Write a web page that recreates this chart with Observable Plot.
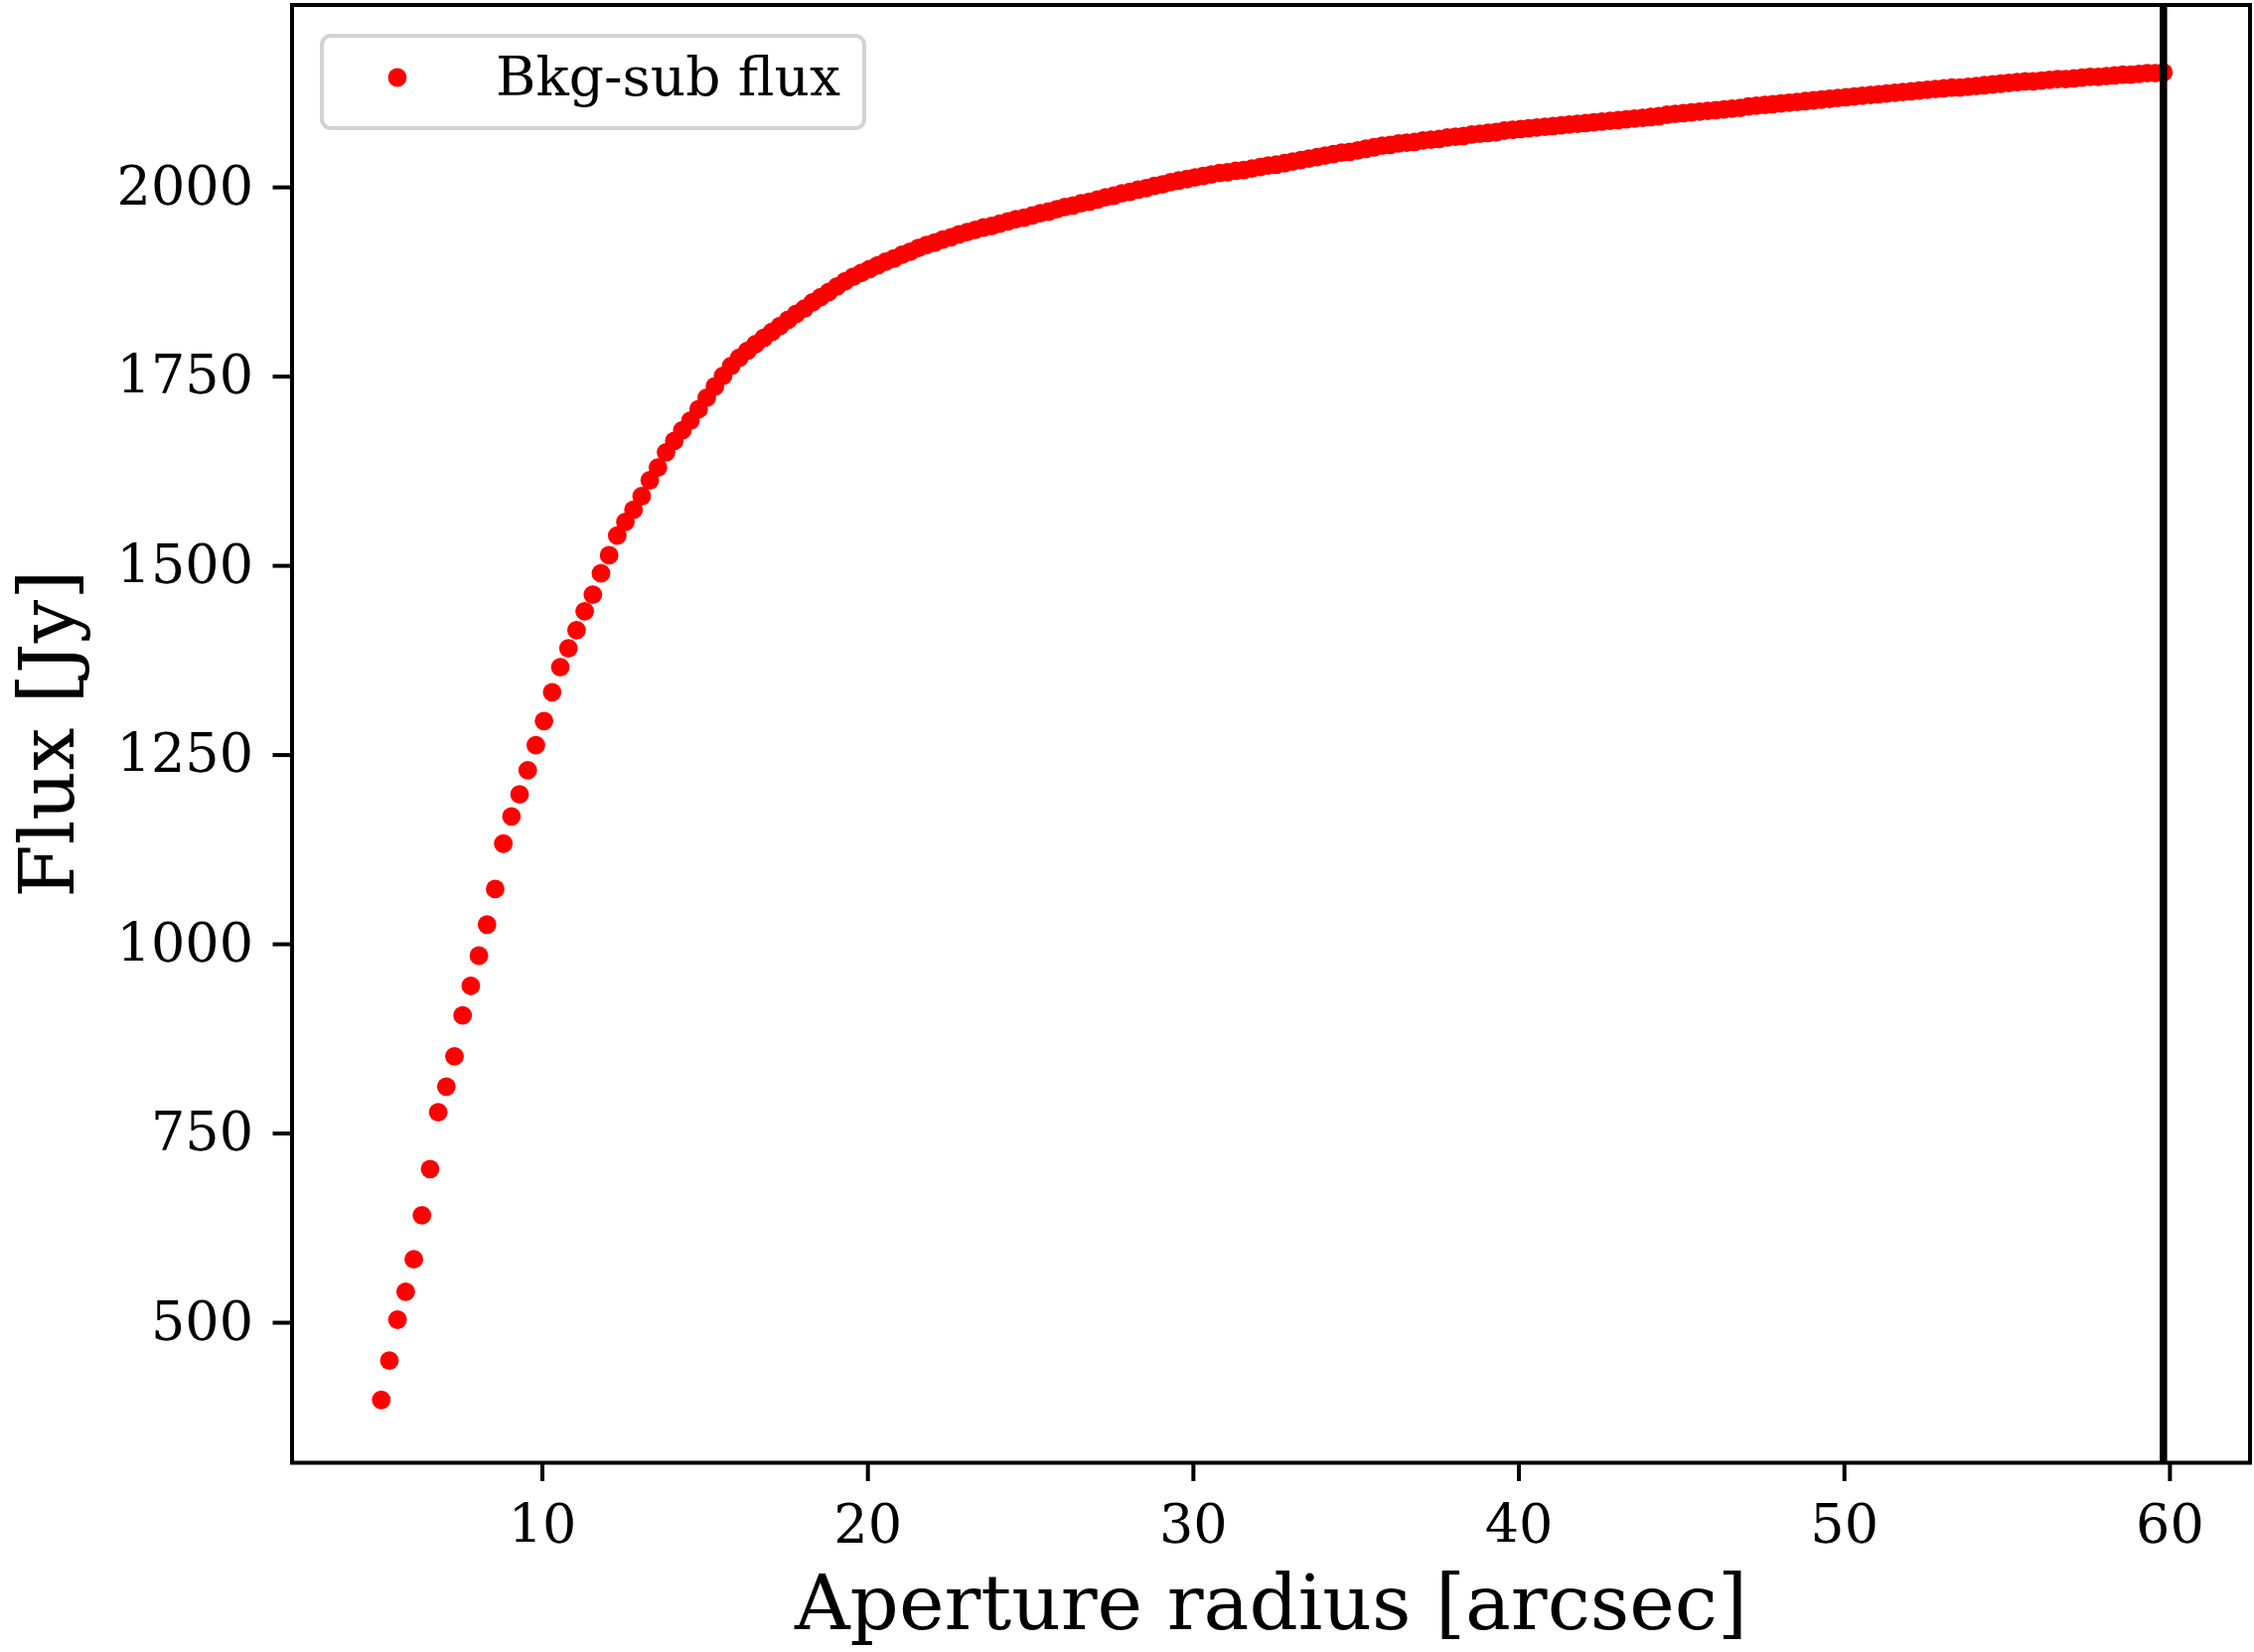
<!DOCTYPE html>
<html>
<head>
<meta charset="utf-8">
<script src="https://cdn.jsdelivr.net/npm/d3@7"></script>
<script src="https://cdn.jsdelivr.net/npm/@observablehq/plot@0.6"></script>
<style>
html, body { margin: 0; padding: 0; background: #fff; }
#wrap { position: relative; width: 2269px; height: 1663px; overflow: hidden; font-family: "DejaVu Serif", serif; }
#wrap svg { display: block; }
#legend { position: absolute; left: 322px; top: 34px; width: 550px; height: 97px; }
</style>
</head>
<body>
<div id="wrap"></div>
<script>
// Aperture radius [arcsec]
const radius = [
  5.05,5.3,5.55,5.8,6.05,6.3,6.55,6.8,7.05,7.3,7.55,7.8,8.05,8.3,8.55,8.8,9.05,9.3,9.55,9.8,
  10.05,10.3,10.55,10.8,11.05,11.3,11.55,11.8,12.05,12.3,12.55,12.8,13.05,13.3,13.55,13.8,14.05,14.3,14.55,14.8,
  15.05,15.3,15.55,15.8,16.05,16.3,16.55,16.8,17.05,17.3,17.55,17.8,18.05,18.3,18.55,18.8,19.05,19.3,19.55,19.8,
  20.05,20.3,20.55,20.8,21.05,21.3,21.55,21.8,22.05,22.3,22.55,22.8,23.05,23.3,23.55,23.8,24.05,24.3,24.55,24.8,
  25.05,25.3,25.55,25.8,26.05,26.3,26.55,26.8,27.05,27.3,27.55,27.8,28.05,28.3,28.55,28.8,29.05,29.3,29.55,29.8,
  30.05,30.3,30.55,30.8,31.05,31.3,31.55,31.8,32.05,32.3,32.55,32.8,33.05,33.3,33.55,33.8,34.05,34.3,34.55,34.8,
  35.05,35.3,35.55,35.8,36.05,36.3,36.55,36.8,37.05,37.3,37.55,37.8,38.05,38.3,38.55,38.8,39.05,39.3,39.55,39.8,
  40.05,40.3,40.55,40.8,41.05,41.3,41.55,41.8,42.05,42.3,42.55,42.8,43.05,43.3,43.55,43.8,44.05,44.3,44.55,44.8,
  45.05,45.3,45.55,45.8,46.05,46.3,46.55,46.8,47.05,47.3,47.55,47.8,48.05,48.3,48.55,48.8,49.05,49.3,49.55,49.8,
  50.05,50.3,50.55,50.8,51.05,51.3,51.55,51.8,52.05,52.3,52.55,52.8,53.05,53.3,53.55,53.8,54.05,54.3,54.55,54.8,
  55.05,55.3,55.55,55.8,56.05,56.3,56.55,56.8,57.05,57.3,57.55,57.8,58.05,58.3,58.55,58.8,59.05,59.3,59.55,59.8
];

// Background-subtracted flux [Jy]
const flux = [
  398,450,504,541,584,642,703,778,812,852,906,945,985,1026,1073,1133,1169,1198,1230,1263,
  1295,1333,1366,1391,1415,1440,1462,1490,1514,1540,1558,1574,1592,1613,1630,1650,1665,1679,1692,1707,
  1722,1737,1751,1764,1775,1784,1793,1801,1809,1817,1825,1833,1840,1848,1855,1862,1869,1876,1882,1887,
  1892,1897,1902,1906,1911,1915,1920,1924,1927,1931,1934,1938,1941,1944,1947,1949,1952,1955,1958,1960,
  1963,1966,1968,1971,1974,1976,1979,1981,1984,1987,1989,1992,1994,1997,1999,2002,2004,2007,2009,2011,
  2013,2015,2017,2019,2020,2022,2023,2025,2027,2029,2030,2032,2034,2036,2038,2040,2042,2044,2046,2047,
  2049,2051,2053,2055,2056,2058,2059,2060,2062,2063,2064,2066,2067,2068,2070,2071,2072,2073,2075,2076,
  2077,2078,2079,2080,2081,2082,2083,2084,2085,2086,2087,2088,2089,2090,2091,2092,2093,2094,2096,2097,
  2098,2099,2100,2101,2102,2103,2104,2105,2107,2108,2109,2110,2111,2112,2113,2114,2115,2116,2117,2118,
  2119,2120,2121,2122,2123,2124,2125,2126,2127,2128,2129,2130,2131,2132,2132,2133,2134,2135,2136,2137,
  2138,2139,2140,2140,2141,2142,2143,2143,2144,2145,2146,2146,2147,2148,2149,2149,2150,2151,2151,2152
];

// Vertical marker (maximum aperture radius)
const cutRadius = [59.8];

// Tick values
const xTicks = [10, 20, 30, 40, 50, 60];
const yTicks = [500, 750, 1000, 1250, 1500, 1750, 2000];

// Texts
const xLabel = "Aperture radius [arcsec]";
const yLabel = "Flux [Jy]";
const seriesName = "Bkg-sub flux";

const data = radius.map((r, i) => ({r, f: flux[i]}));

const FONT = '"DejaVu Serif", serif';

const chart = Plot.plot({
  width: 2269,
  height: 1663,
  marginLeft: 293.5,
  marginRight: 4.5,
  marginTop: 4.5,
  marginBottom: 191,
  style: {fontFamily: FONT, fontSize: "54px", color: "black", background: "white", overflow: "visible"},
  x: {domain: [2.31, 62.46]},
  y: {domain: [315, 2241]},
  marks: [
    Plot.dot(data, {x: "r", y: "f", r: 9.4, fill: "#ff0000", stroke: "none"}),
    Plot.ruleX(cutRadius, {stroke: "black", strokeWidth: 7.5}),
    Plot.frame({stroke: "black", strokeWidth: 4}),
    Plot.axisX(xTicks, {anchor: "bottom", tickSize: 19, tickPadding: 23, strokeWidth: 4, tickFormat: d => String(d), label: null, fontSize: 54, fill: "black", stroke: "black"}),
    Plot.axisY(yTicks, {anchor: "left", tickSize: 19, tickPadding: 20, strokeWidth: 4, tickFormat: d => String(d), label: null, fontSize: 54, fill: "black", stroke: "black"}),
    Plot.text([xLabel], {text: d => d, frameAnchor: "bottom", textAnchor: "middle", lineAnchor: "middle", dy: 143, fontSize: 77, fill: "black"}),
    Plot.text([yLabel], {text: d => d, frameAnchor: "left", textAnchor: "middle", lineAnchor: "middle", rotate: -90, dx: -245, fontSize: 77, fill: "black"})
  ]
});

const wrap = document.getElementById("wrap");
wrap.appendChild(chart);

// Legend box (matplotlib-style)
const NS = "http://www.w3.org/2000/svg";
const leg = document.createElementNS(NS, "svg");
leg.setAttribute("id", "legend");
leg.setAttribute("width", "550");
leg.setAttribute("height", "97");
leg.innerHTML = `
  <rect x="2" y="2" width="546" height="93" rx="9" ry="9" fill="white" fill-opacity="0.8" stroke="#d3d3d3" stroke-width="4"></rect>
  <circle cx="78" cy="44" r="9.4" fill="#ff0000"></circle>
  <text x="177" y="62" font-family='${FONT}' font-size="55" fill="black"></text>`;
leg.querySelector("text").textContent = seriesName;
wrap.appendChild(leg);
</script>
</body>
</html>
